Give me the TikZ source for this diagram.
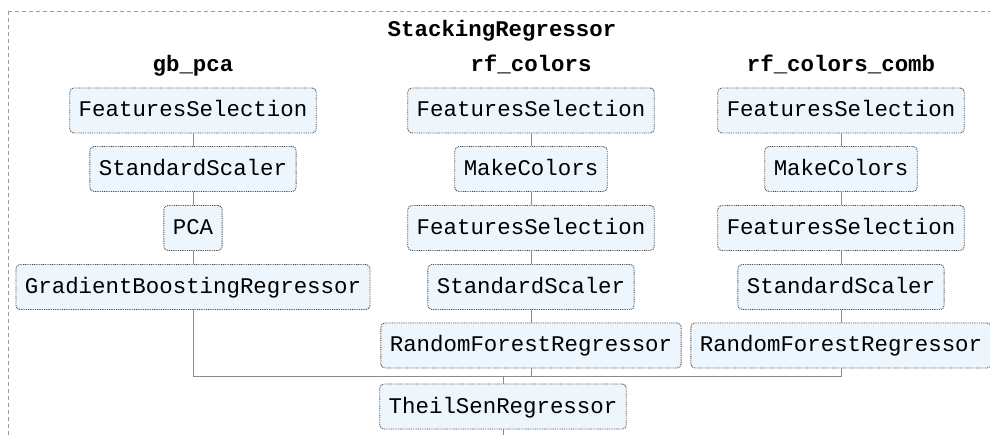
\documentclass[tikz,border=0pt]{standalone}
\usepackage{fontspec}
\setmonofont{Liberation Mono}
\begin{document}
\begin{tikzpicture}[x=1pt,y=-1pt,
  est/.style={draw=black!70, fill=boxfill, rounded corners=4pt,
    line width=0.9pt, dash pattern=on 0.9pt off 0.9pt,
    font=\ttfamily\fontsize{22.4}{26}\selectfont,
    inner xsep=9pt, inner ysep=0pt, minimum height=45pt,
    text height=13pt, text depth=0pt},
  ttl/.style={font=\ttfamily\bfseries\fontsize{22.4}{26}\selectfont, anchor=base},
  link/.style={draw=linkgray, line width=1pt}]
\definecolor{boxfill}{HTML}{EEF6FD}
\definecolor{linkgray}{HTML}{8A8A8A}
\definecolor{framegray}{HTML}{9A9A9A}
\clip (0,0) rectangle (990,435);
\fill[white] (0,0) rectangle (990,435);

% outer StackingRegressor frame
\draw[framegray, line width=0.8pt, dash pattern=on 4pt off 3pt] (8,11) rectangle (1010,460);
\node[ttl] (stk) at (502,37) {StackingRegressor};

% column titles
\node[ttl] (t1) at (193,72) {gb\_pca};
\node[ttl] (t2) at (531,72) {rf\_colors};
\node[ttl] (t3) at (841,72) {rf\_colors\_comb};

% gb_pca pipeline
\node[est] (a1) at (193,110.5) {FeaturesSelection};
\node[est] (a2) at (193,169)   {StandardScaler};
\node[est] (a3) at (193,228)   {PCA};
\node[est] (a4) at (193,287)   {GradientBoostingRegressor};

% rf_colors pipeline
\node[est] (b1) at (531,110.5) {FeaturesSelection};
\node[est] (b2) at (531,169)   {MakeColors};
\node[est] (b3) at (531,228)   {FeaturesSelection};
\node[est] (b4) at (531,287)   {StandardScaler};
\node[est] (b5) at (531,345.5) {RandomForestRegressor};

% rf_colors_comb pipeline
\node[est] (c1) at (841,110.5) {FeaturesSelection};
\node[est] (c2) at (841,169)   {MakeColors};
\node[est] (c3) at (841,228)   {FeaturesSelection};
\node[est] (c4) at (841,287)   {StandardScaler};
\node[est] (c5) at (841,345.5) {RandomForestRegressor};

% final estimator
\node[est] (ts) at (503,406.5) {TheilSenRegressor};

\coordinate (bus) at (0,376);
\coordinate (out) at (503,440);

% pipeline steps
\draw[link] (a1) -- (a2) (a2) -- (a3) (a3) -- (a4);
\draw[link] (b1) -- (b2) (b2) -- (b3) (b3) -- (b4) (b4) -- (b5);
\draw[link] (c1) -- (c2) (c2) -- (c3) (c3) -- (c4) (c4) -- (c5);

% merge into the final estimator
\draw[link] (a4.south) -- (a4.south |- bus) -- (c5.south |- bus) -- (c5.south);
\draw[link] (b5.south) -- (b5.south |- bus);
\draw[link] (bus -| ts.north) -- (ts.north);
\draw[link] (ts.south) -- (out);
\end{tikzpicture}
\end{document}
